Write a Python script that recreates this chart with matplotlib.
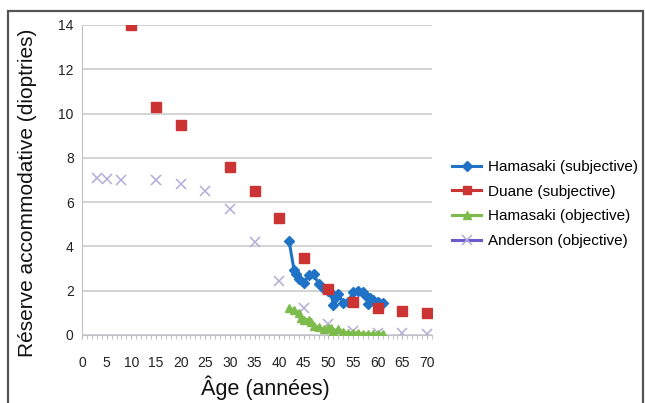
import matplotlib.pyplot as plt
from matplotlib.lines import Line2D
from matplotlib.patches import Rectangle

plt.rcParams['font.family'] = ['Liberation Sans', 'DejaVu Sans']

# Hamasaki (subjective)
ham_subj_age = [42, 43, 43.5, 44, 45, 46, 47, 48, 49, 50, 50.5, 51, 51.5, 52,
                53, 54, 55, 56, 57, 57.5, 58, 58.5, 59, 60, 61]
ham_subj_val = [4.25, 2.95, 2.75, 2.55, 2.35, 2.7, 2.75, 2.3, 2.1, 2.0, 1.9, 1.35, 1.7, 1.85,
                1.45, 1.5, 1.95, 2.0, 1.95, 1.8, 1.4, 1.65, 1.6, 1.5, 1.45]

# Duane (subjective)
duane_age = [10, 15, 20, 30, 35, 40, 45, 50, 55, 60, 65, 70]
duane_val = [14.0, 10.3, 9.5, 7.6, 6.5, 5.3, 3.5, 2.1, 1.5, 1.2, 1.1, 1.0]

# Hamasaki (objective)
ham_obj_age = [42, 43, 44, 44.5, 45, 46, 46.5, 47, 48, 49, 50, 50.5, 51, 52,
               53, 54, 55, 56, 57, 58, 59, 60, 61]
ham_obj_val = [1.2, 1.15, 1.0, 0.75, 0.7, 0.7, 0.6, 0.4, 0.35, 0.25, 0.3, 0.3, 0.2, 0.25,
               0.15, 0.1, 0.1, 0.1, 0.05, 0.05, 0.05, 0.05, 0.05]

# Anderson (objective)
anderson_age = [3, 5, 8, 15, 20, 25, 30, 35, 40, 45, 50, 55, 60, 65, 70]
anderson_val = [7.1, 7.05, 7.0, 7.0, 6.8, 6.5, 5.7, 4.2, 2.45, 1.2, 0.5, 0.2, 0.1, 0.1, 0.05]

x_ticks = list(range(0, 71, 5))
y_ticks = list(range(0, 15, 2))

blue = '#1f72c6'
red = '#cc3333'
green = '#7cbb4c'
purple = '#6a5acd'
xcol = '#b4acd8'

fig = plt.figure(figsize=(6.45, 4.03), dpi=100)
ax = fig.add_axes([82 / 645, 68 / 403, 350 / 645, 310 / 403])

ax.plot(ham_subj_age, ham_subj_val, color=blue, lw=2.2, marker='D', ms=5, zorder=3)
ax.plot(duane_age, duane_val, ls='none', color=red, marker='s', ms=7.5, zorder=4)
ax.plot(ham_obj_age, ham_obj_val, color=green, lw=2.2, marker='^', ms=6, zorder=3)
ax.plot(anderson_age, anderson_val, ls='none', color=xcol, marker='x', ms=6.5, mew=1.1, zorder=2)

ax.set_xlim(0, 71)
ax.set_ylim(0, 14)
ax.set_xticks(x_ticks)
ax.set_xticks(range(0, 72), minor=True)
ax.set_yticks(y_ticks)
ax.grid(axis='y', color='#c8c8cc', lw=1.1)
ax.set_axisbelow(True)
for s in ['top', 'right']:
    ax.spines[s].set_visible(False)
for s in ['left', 'bottom']:
    ax.spines[s].set_color('#c0c0c8')
ax.tick_params(axis='x', which='both', length=3, color='#b8b8c0', pad=12, labelsize=10, labelcolor='#222222')
ax.tick_params(axis='y', length=0, pad=6, labelsize=10, labelcolor='#222222')

ax.set_xlabel('Âge (années)', fontsize=15.5, color='#111111')
ax.xaxis.set_label_coords(0.523, -41 / 310)
ax.set_ylabel('Réserve accommodative (dioptries)', fontsize=15, color='#111111')
ax.yaxis.set_label_coords(-45 / 350, 0.46)

handles = [
    Line2D([], [], color=blue, lw=2.2, marker='D', ms=5),
    Line2D([], [], color=red, lw=2.2, marker='s', ms=6),
    Line2D([], [], color=green, lw=2.2, marker='^', ms=6),
    Line2D([], [], color=purple, lw=2.2, marker='x', ms=6.5, mec=xcol, mew=1.1),
]
labels = ['Hamasaki (subjective)', 'Duane (subjective)',
          'Hamasaki (objective)', 'Anderson (objective)']
fig.legend(handles, labels, loc='upper left', bbox_to_anchor=(452 / 645, 1 - 160 / 403),
           frameon=False, fontsize=11, handlelength=1.9, handletextpad=0.45,
           labelspacing=0.7, borderpad=0, borderaxespad=0)

fig.patches.append(Rectangle((8 / 645, -0.02), 635 / 645, 1.02 - 11 / 403,
                             transform=fig.transFigure, fill=False, ec='#555555', lw=1.6))

fig.savefig('out.png', dpi=100)
